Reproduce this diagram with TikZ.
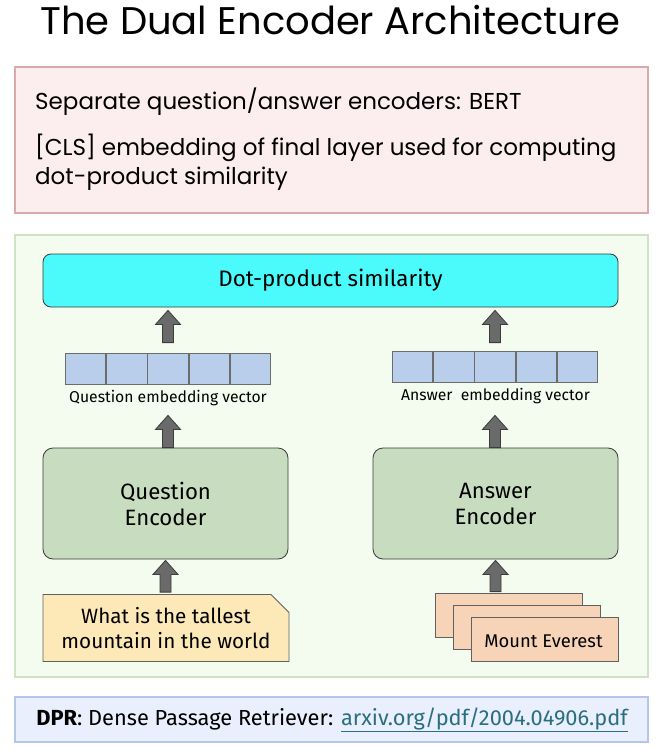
\documentclass[tikz,border=0pt]{standalone}
\usepackage{fontspec}
\setmainfont{Poppins}
\newfontfamily\plex{Fira Sans}
\usetikzlibrary{calc,shapes.misc}
\definecolor{pinkfill}{HTML}{FCEDEE}
\definecolor{pinkdraw}{HTML}{D9AAAA}
\definecolor{greenfill}{HTML}{F4FBEF}
\definecolor{greendraw}{HTML}{CDE3C3}
\definecolor{cyanfill}{HTML}{4BFBFB}
\definecolor{encfill}{HTML}{C8DDC0}
\definecolor{vecfill}{HTML}{B8CEEA}
\definecolor{qdocfill}{HTML}{FDE9B7}
\definecolor{adocfill}{HTML}{F7D4B8}
\definecolor{dprfill}{HTML}{E9EFFC}
\definecolor{dprdraw}{HTML}{B5C6E8}
\definecolor{linkcol}{HTML}{2A6F7F}
\definecolor{arrfill}{HTML}{6A6A6A}
\definecolor{arrdraw}{HTML}{3C3C3C}
\definecolor{darkline}{HTML}{3A3A3A}
\newcommand\blockarrow[5]{%
  \draw[barrow] let \p1=(#1.north), \p2=(#2.south), \p3=(#5) in
    ({\x3-5.5pt},{\y1+#3pt}) -- ({\x3-5.5pt},{\y2-#4pt-14pt}) --
    ({\x3-12.5pt},{\y2-#4pt-14pt}) -- ({\x3},{\y2-#4pt}) --
    ({\x3+12.5pt},{\y2-#4pt-14pt}) -- ({\x3+5.5pt},{\y2-#4pt-14pt}) --
    ({\x3+5.5pt},{\y1+#3pt}) -- cycle;}
\begin{document}
\begin{tikzpicture}[x=1pt,y=-1pt,
  panel/.style={draw, line width=1.5pt, inner sep=0pt},
  cyanbox/.style={draw=darkline, fill=cyanfill, rounded corners=8pt, line width=0.8pt,
    minimum width=575pt, minimum height=53pt, inner sep=0pt},
  encbox/.style={draw=darkline, fill=encfill, rounded corners=10pt, line width=0.8pt,
    minimum width=245pt, minimum height=111pt, inner sep=0pt, align=center,
    font=\plex\fontsize{22.2}{26}\selectfont},
  cell/.style={draw=gray!85!black, fill=vecfill, line width=0.8pt,
    minimum width=40.4pt, minimum height=31pt, inner sep=0pt, anchor=west},
  veclabel/.style={font=\plex\fontsize{15.7}{18}\selectfont, inner sep=0pt},
  docbox/.style={draw=darkline!80, line width=0.8pt, chamfered rectangle,
    chamfered rectangle corners=north east, chamfered rectangle xsep=9pt,
    chamfered rectangle ysep=9pt, inner sep=0pt, align=center},
  barrow/.style={fill=arrfill, draw=arrdraw, line width=0.8pt, line join=miter},
  pinktext/.style={anchor=base west, inner sep=0pt, font=\fontsize{23}{26}\selectfont}
]
\useasboundingbox[fill=white] (0,0) rectangle (661,754);

% title
\node[anchor=base, inner sep=0pt, font=\fontsize{38.5}{42}\selectfont] (title) at (330.5,35) {The Dual Encoder Architecture};

% pink notes box
\node[panel, draw=pinkdraw, fill=pinkfill, minimum width=633pt, minimum height=146pt] (notes) at (331.5,140) {};
\node[pinktext] (n1) at (35,110) {Separate question/answer encoders: BERT};
\node[pinktext] (n2) at (35,156) {[CLS] embedding of final layer used for computing};
\node[pinktext] (n3) at (35,185) {dot-product similarity};

% green panel
\node[panel, draw=greendraw, fill=greenfill, minimum width=633pt, minimum height=442pt] (panel) at (331.5,456) {};

% dot-product box
\node[cyanbox, font=\plex\fontsize{22.4}{26}\selectfont] (dot) at (330.5,280.5) {Dot-product similarity};

% question vector
\node[cell] (qv1) at (65,368.5) {};
\node[cell] (qv2) at (qv1.east) {};
\node[cell] (qv3) at (qv2.east) {};
\node[cell] (qv4) at (qv3.east) {};
\node[cell] (qv5) at (qv4.east) {};
\node[veclabel] (qlab) at (168,398) {Question embedding vector};

% answer vector
\node[cell] (av1) at (392,366.5) {};
\node[cell] (av2) at (av1.east) {};
\node[cell] (av3) at (av2.east) {};
\node[cell] (av4) at (av3.east) {};
\node[cell] (av5) at (av4.east) {};
\node[veclabel] (alab) at (495.5,396) {Answer\ \ embedding vector};

% encoders
\node[encbox] (qenc) at (165.5,503.5) {Question\\Encoder};
\node[encbox] (aenc) at (495.5,503.5) {Answer\\Encoder};

% question document
\node[docbox, fill=qdocfill, minimum width=246pt, minimum height=67pt,
  font=\plex\fontsize{20.7}{25}\selectfont] (qdoc) at (166,628) {What is the tallest\\mountain in the world};

% answer documents
\node[docbox, fill=adocfill, minimum width=147pt, minimum height=44pt] (ad1) at (508.5,615) {};
\node[docbox, fill=adocfill, minimum width=147pt, minimum height=44pt] (ad2) at (527,627) {};
\node[docbox, fill=adocfill, minimum width=147pt, minimum height=44pt,
  font=\plex\fontsize{18.4}{20}\selectfont] (ad3) at (544.5,639) {};
\node[inner sep=0pt, font=\plex\fontsize{18.4}{20}\selectfont] (adtext) at (543.5,641.5) {Mount Everest};

% arrows
\blockarrow{qv3}{dot}{10}{3}{qv3.center}
\blockarrow{av3}{dot}{8}{3}{av3.center}
\blockarrow{qenc}{qv3}{0}{31}{qv3.center}
\blockarrow{aenc}{av3}{0}{33}{av3.center}
\blockarrow{qdoc}{qenc}{2}{1}{qenc.center}
\blockarrow{ad1}{aenc}{1}{1}{aenc.center}

% DPR reference box
\node[panel, draw=dprdraw, fill=dprfill, minimum width=633pt, minimum height=45pt] (dpr) at (331.5,719.5) {};
\node[inner sep=0pt, font=\plex\fontsize{21.8}{24}\selectfont] (dprtext) at (332,720)
  {\textbf{DPR}: Dense Passage Retriever: \textcolor{linkcol}{\underline{arxiv.org/pdf/2004.04906.pdf}}};
\end{tikzpicture}
\end{document}
